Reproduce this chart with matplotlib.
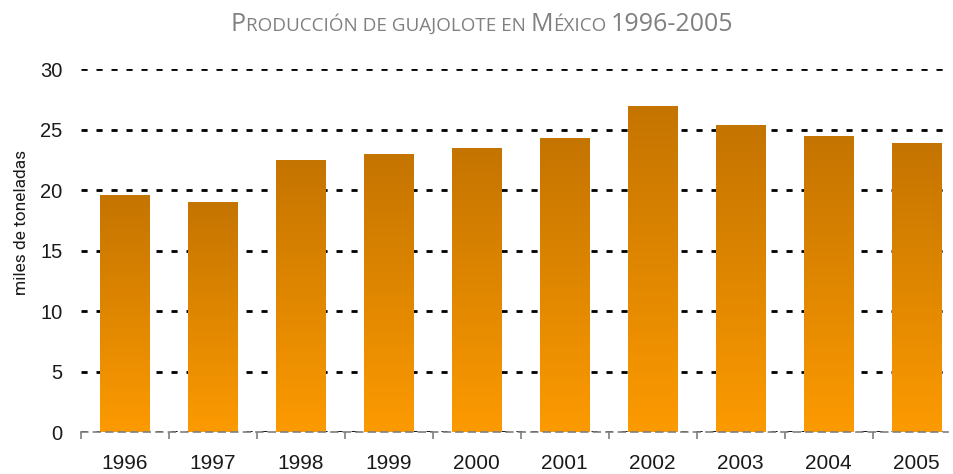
import matplotlib
matplotlib.use('Agg')
import matplotlib.pyplot as plt
import matplotlib.colors as mcolors
import numpy as np

years = ['1996', '1997', '1998', '1999', '2000', '2001', '2002', '2003', '2004', '2005']
production = [19.6, 19.0, 22.45, 23.0, 23.5, 24.25, 26.9, 25.4, 24.45, 23.85]
yticks = [0, 5, 10, 15, 20, 25, 30]
ylabel = 'miles de toneladas'
# title in small caps: (text, is_capital)
title_parts = [('P', True), ('RODUCCIÓN DE GUAJOLOTE EN', False), (' ', False),
               ('M', True), ('ÉXICO', False), (' ', False), ('1996-2005', True)]

W, H = 954, 474
fig = plt.figure(figsize=(W / 100, H / 100), dpi=100)
ax_left, ax_right = 80.7, 948
ax_bottom, ax_top = 432, 69.5
ax = fig.add_axes([ax_left / W, 1 - ax_bottom / H,
                   (ax_right - ax_left) / W, (ax_bottom - ax_top) / H])

bar_w = 0.568
top_col = np.array(mcolors.to_rgb('#c47400'))
bot_col = np.array(mcolors.to_rgb('#fc9a00'))
grad = np.linspace(0, 1, 256)[:, None, None]
grad_img = top_col * (1 - grad) + bot_col * grad  # row 0 = top

x = np.arange(len(years))
bars = ax.bar(x, production, width=bar_w, color='none', edgecolor='none', zorder=1)
for b in bars:
    x0, y0 = b.get_x(), b.get_y()
    ax.imshow(grad_img, extent=[x0, x0 + b.get_width(), y0, y0 + b.get_height()],
              aspect='auto', origin='upper', zorder=1, interpolation='bilinear')

n_cat = (ax_right - ax_left) / 88.0
ax.set_xlim(-0.5, -0.5 + n_cat)
ax.set_ylim(0, 30)

ax.set_axisbelow(True)
ax.yaxis.grid(True, color='black', linewidth=2, linestyle=(0, (2.2, 3.2)))
ax.xaxis.grid(False)

for s in ['top', 'right', 'left']:
    ax.spines[s].set_visible(False)
ax.spines['bottom'].set_color('#7f7f7f')
ax.spines['bottom'].set_linewidth(1.2)
ax.spines['bottom'].set_linestyle((0, (4, 3.5)))
ax.spines['bottom'].set_zorder(3)

ax.set_yticks(yticks)
ax.tick_params(axis='y', length=0, pad=13, labelsize=14.5)
ax.set_xticks(x)
ax.set_xticklabels(years)
ax.tick_params(axis='x', which='major', length=0, pad=16, labelsize=15)
ax.set_xticks(np.arange(len(years)) - 0.5, minor=True)
ax.tick_params(axis='x', which='minor', length=5, width=1.2, color='#7f7f7f', direction='out')
for lab in ax.get_xticklabels() + ax.get_yticklabels():
    lab.set_fontfamily('Liberation Sans')
    lab.set_color('#1a1a1a')

ax.set_ylabel(ylabel, fontsize=12.5, family='Roboto', color='#1a1a1a')
ax.yaxis.set_label_coords(-(ax_left - 29) / (ax_right - ax_left), (432 - 222) / (432 - 69.5))

# small-caps title built from pieces
big, small = 18, 13.6
title_font = 'Open Sans'
renderer = fig.canvas.get_renderer()
pieces = []
total = 0
for txt, cap in title_parts:
    t = fig.text(0, 0, txt, fontsize=big if cap else small, family=title_font,
                 color='#808080', va='baseline', ha='left')
    if txt.strip() == '':
        a = fig.text(0, 0, 'a a', fontsize=small, family=title_font)
        b2 = fig.text(0, 0, 'aa', fontsize=small, family=title_font)
        wd = a.get_window_extent(renderer).width - b2.get_window_extent(renderer).width
        a.remove(); b2.remove()
    else:
        wd = t.get_window_extent(renderer).width
    pieces.append((t, wd))
    total += wd
cx, base_y = 482, 31
xpos = cx - total / 2
for t, wd in pieces:
    t.set_position((xpos / W, 1 - base_y / H))
    xpos += wd

fig.savefig('out.png', dpi=100)
